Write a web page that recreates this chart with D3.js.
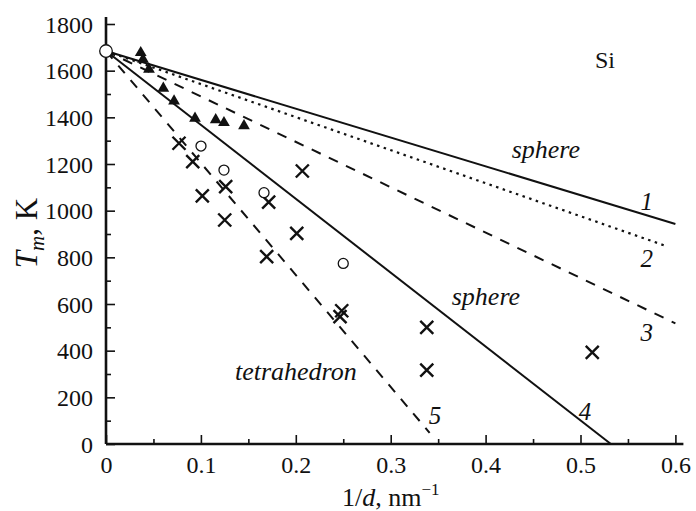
<!DOCTYPE html>
<html>
<head>
<meta charset="utf-8">
<script src="https://cdn.jsdelivr.net/npm/d3@7"></script>
<style>
  html, body { margin: 0; padding: 0; background: #fff; }
  svg { display: block; }
  svg text { font-family: "Liberation Serif", "Times New Roman", serif; fill: #111; }
</style>
</head>
<body>
<svg id="chart" width="696" height="511"></svg>
<script>
// ---------- data ----------
const xTickValues = [0, 0.1, 0.2, 0.3, 0.4, 0.5, 0.6];
const xTickLabels = ["0", "0.1", "0.2", "0.3", "0.4", "0.5", "0.6"];
const xMinorTicks = [0.05, 0.15, 0.25, 0.35, 0.45, 0.55];
const yTickValues = [0, 200, 400, 600, 800, 1000, 1200, 1400, 1600, 1800];
const yTickLabels = ["0", "200", "400", "600", "800", "1000", "1200", "1400", "1600", "1800"];
const yMinorTicks = [100, 300, 500, 700, 900, 1100, 1300, 1500, 1700];

// model lines: all start at bulk melting point (1/d = 0)
const lineIds = ["1", "2", "3", "4", "5"];
const lineStartT = 1684;
const lineEndX = [0.6, 0.592, 0.6, 0.532, 0.341];
const lineEndT = [943, 846, 517, 0, 48];
const lineStyles = ["solid", "dotted", "dashed", "solid", "dashed"];

// experimental points
const triX = [0.0366, 0.039, 0.0453, 0.0604, 0.0717, 0.0938, 0.1156, 0.1243, 0.1454];
const triT = [1677, 1649, 1606, 1524, 1470, 1396, 1389, 1377, 1364];

const circX = [0, 0.1001, 0.1243, 0.1665, 0.25];
const circT = [1684, 1277, 1174, 1077, 774];

const crossX = [0.0769, 0.0914, 0.1015, 0.1261, 0.1251, 0.1714, 0.1693, 0.201, 0.2069, 0.2484, 0.2466, 0.338, 0.338, 0.5124];
const crossT = [1289, 1210, 1063, 1103, 960, 1037, 803, 903, 1170, 571, 546, 500, 317, 393];

// ---------- drawing ----------
const svg = d3.select("#chart");
const ink = "#111";
const serif = '"Liberation Serif", "Times New Roman", serif';

const x = d3.scaleLinear().domain([0, 0.6]).range([106, 675.4]);
const y = d3.scaleLinear().domain([0, 1800]).range([444, 24]);

// axis lines (extend a little beyond last ticks)
svg.append("line")
  .attr("x1", x(0)).attr("x2", x(0.6) + 8)
  .attr("y1", y(0)).attr("y2", y(0))
  .attr("stroke", ink).attr("stroke-width", 2.6);
svg.append("line")
  .attr("x1", x(0)).attr("x2", x(0))
  .attr("y1", y(0)).attr("y2", y(1800) - 7)
  .attr("stroke", ink).attr("stroke-width", 2.6);

// x axis ticks (inward)
const xAxis = d3.axisBottom(x)
  .tickValues(xTickValues)
  .tickSizeInner(-9).tickSizeOuter(0)
  .tickFormat((d, i) => xTickLabels[i]);
const gx = svg.append("g").attr("transform", `translate(0,${y(0)})`).call(xAxis)
  .attr("font-family", serif).attr("font-size", 24);
gx.select(".domain").remove();
gx.selectAll(".tick line").attr("stroke", ink).attr("stroke-width", 1.6);
gx.selectAll(".tick text").attr("y", 29).attr("dy", 0).attr("fill", ink).attr("font-family", serif);
const gxm = svg.append("g").attr("transform", `translate(0,${y(0)})`)
  .call(d3.axisBottom(x).tickValues(xMinorTicks).tickSizeInner(-5).tickSizeOuter(0).tickFormat(""));
gxm.select(".domain").remove();
gxm.selectAll(".tick line").attr("stroke", ink).attr("stroke-width", 1.6);

// y axis ticks (inward)
const yAxis = d3.axisLeft(y)
  .tickValues(yTickValues)
  .tickSizeInner(-9).tickSizeOuter(0)
  .tickFormat((d, i) => yTickLabels[i]);
const gy = svg.append("g").attr("transform", `translate(${x(0)},0)`).call(yAxis)
  .attr("font-family", serif).attr("font-size", 24);
gy.select(".domain").remove();
gy.selectAll(".tick line").attr("stroke", ink).attr("stroke-width", 1.6);
gy.selectAll(".tick text").attr("x", -13).attr("dy", "0.34em").attr("fill", ink).attr("font-family", serif);
const gym = svg.append("g").attr("transform", `translate(${x(0)},0)`)
  .call(d3.axisLeft(y).tickValues(yMinorTicks).tickSizeInner(-5).tickSizeOuter(0).tickFormat(""));
gym.select(".domain").remove();
gym.selectAll(".tick line").attr("stroke", ink).attr("stroke-width", 1.6);

// model lines
const dashFor = { solid: null, dotted: "2.5,4.5", dashed: "10,9" };
svg.append("g").selectAll("line.model")
  .data(lineIds)
  .join("line")
  .attr("class", "model")
  .attr("x1", x(0)).attr("y1", y(lineStartT))
  .attr("x2", (d, i) => x(lineEndX[i]))
  .attr("y2", (d, i) => y(lineEndT[i]))
  .attr("stroke", ink)
  .attr("stroke-width", (d, i) => lineStyles[i] === "dotted" ? 2.2 : 2)
  .attr("stroke-dasharray", (d, i) => dashFor[lineStyles[i]]);

// triangles
const triSym = d3.symbol().type(d3.symbolTriangle).size(60);
svg.append("g").selectAll("path.tri")
  .data(triX)
  .join("path")
  .attr("class", "tri")
  .attr("d", triSym)
  .attr("transform", (d, i) => `translate(${x(d)},${y(triT[i])})`)
  .attr("fill", ink);

// crosses
const cs = 6.5;
const gCross = svg.append("g");
crossX.forEach((cx, i) => {
  const px = x(cx), py = y(crossT[i]);
  gCross.append("path")
    .attr("d", `M${px - cs},${py - cs}L${px + cs},${py + cs}M${px - cs},${py + cs}L${px + cs},${py - cs}`)
    .attr("stroke", ink).attr("stroke-width", 2.4).attr("fill", "none");
});

// open circles
svg.append("g").selectAll("circle.open")
  .data(circX)
  .join("circle")
  .attr("class", "open")
  .attr("cx", d => x(d))
  .attr("cy", (d, i) => y(circT[i]))
  .attr("r", (d, i) => i === 0 ? 6.3 : 5)
  .attr("fill", "#fff")
  .attr("stroke", ink)
  .attr("stroke-width", 1.3);

// line labels
const numLabels = [
  { t: "1", xv: 0.5698, yv: 1038 },
  { t: "2", xv: 0.5698, yv: 797 },
  { t: "3", xv: 0.5698, yv: 476 },
  { t: "4", xv: 0.5047, yv: 138 },
  { t: "5", xv: 0.3467, yv: 124 }
];
svg.append("g").selectAll("text.num")
  .data(numLabels)
  .join("text")
  .attr("class", "num")
  .attr("x", d => x(d.xv)).attr("y", d => y(d.yv))
  .attr("dy", "0.34em")
  .attr("text-anchor", "middle")
  .attr("font-family", serif)
  .style("font-style", "italic")
  .style("font-size", "25px")
  .text(d => d.t);

const words = [
  { t: "sphere", xv: 0.4275, yv: 1226, it: true },
  { t: "sphere", xv: 0.3643, yv: 596, it: true },
  { t: "tetrahedron", xv: 0.1359, yv: 274, it: true },
  { t: "Si", xv: 0.5153, yv: 1613, it: false }
];
svg.append("g").selectAll("text.word")
  .data(words)
  .join("text")
  .attr("class", "word")
  .attr("x", d => x(d.xv)).attr("y", d => y(d.yv))
  .attr("font-family", serif)
  .style("font-style", d => d.it ? "italic" : "normal")
  .style("font-size", d => d.it ? "26px" : "24px")
  .text(d => d.t);

// y axis title
const yt = svg.append("text")
  .attr("transform", "translate(37,233) rotate(-90)")
  .attr("text-anchor", "middle")
  .attr("font-family", serif)
  .style("font-size", "31px");
yt.append("tspan").style("font-style", "italic").text("T");
yt.append("tspan").style("font-style", "italic").style("font-size", "21px").attr("dy", 7).text("m");
yt.append("tspan").attr("dy", -7).text(", K");

// x axis title
const xt = svg.append("text")
  .attr("x", x(0.3)).attr("y", 506)
  .attr("text-anchor", "middle")
  .attr("font-family", serif)
  .style("font-size", "26px");
xt.append("tspan").text("1/");
xt.append("tspan").style("font-style", "italic").text("d");
xt.append("tspan").text(", nm");
xt.append("tspan").style("font-size", "17px").attr("dy", -11).text("\u22121");
</script>
</body>
</html>
